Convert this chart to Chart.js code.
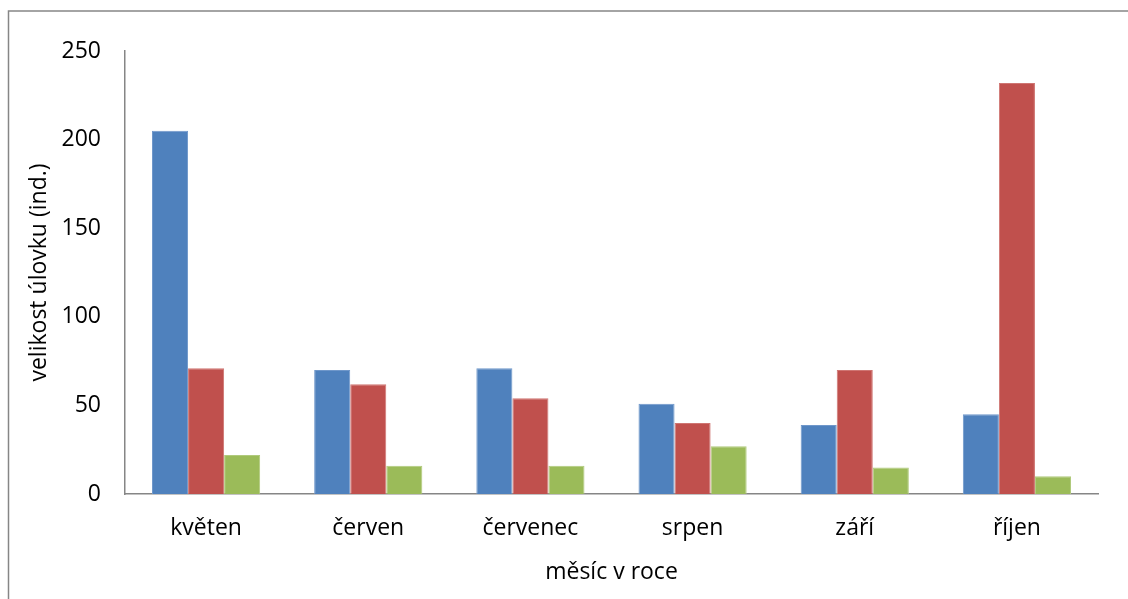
<!DOCTYPE html>
<html lang="cs">
<head>
<meta charset="utf-8">
<title>Velikost úlovku podle měsíce</title>
<script src="https://cdn.jsdelivr.net/npm/chart.js@4/dist/chart.umd.min.js"></script>
<style>
  html, body { margin: 0; padding: 0; background: #ffffff; }
  #wrap { width: 1128px; height: 599px; position: relative; }
</style>
</head>
<body>
<div id="wrap"><canvas id="c" width="1128" height="599"></canvas></div>
<script>
// Měsíce sezóny
const months = ['květen', 'červen', 'červenec', 'srpen', 'září', 'říjen'];

// Úlovky (počet jedinců) pro jednotlivé řady
const series1 = [205, 70, 71, 51, 39, 45];
const series2 = [71, 62, 54, 40, 70, 232];
const series3 = [22, 16, 16, 27, 15, 10];

// Osa y
const yMin = 0;
const yMax = 250;
const yStep = 50;

const FONT = '"Open Sans", "Liberation Sans", sans-serif';
const FONT_SIZE = 23;
const AXIS_GREY = '#868686';

// Šedý rámeček okolo celé oblasti grafu
const frame = {
  id: 'frame',
  beforeDraw(chart) {
    const ctx = chart.ctx;
    ctx.save();
    ctx.strokeStyle = AXIS_GREY;
    ctx.lineWidth = 1.5;
    ctx.strokeRect(8.5, 11, chart.width + 20, chart.height + 20);
    ctx.restore();
  }
};

new Chart(document.getElementById('c'), {
  type: 'bar',
  data: {
    labels: months,
    datasets: [
      { label: 'Řada 1', data: series1, backgroundColor: '#4F81BD', borderColor: '#6F97CA', borderWidth: 1 },
      { label: 'Řada 2', data: series2, backgroundColor: '#C0504D', borderColor: '#CF7572', borderWidth: 1 },
      { label: 'Řada 3', data: series3, backgroundColor: '#9BBB59', borderColor: '#B0CA7C', borderWidth: 1 }
    ]
  },
  options: {
    responsive: false,
    animation: false,
    devicePixelRatio: 1,
    layout: { padding: { left: 8, top: 51, right: 30, bottom: 0 } },
    datasets: { bar: { categoryPercentage: 0.667, barPercentage: 1.0 } },
    plugins: {
      legend: { display: false },
      tooltip: { enabled: false }
    },
    scales: {
      x: {
        grid: { display: false, drawTicks: false },
        border: { display: true, color: AXIS_GREY, width: 1.5 },
        ticks: { color: '#000', font: { family: FONT, size: FONT_SIZE }, padding: 21, maxRotation: 0 },
        title: {
          display: true, text: 'měsíc v roce', color: '#000',
          font: { family: FONT, size: FONT_SIZE }, padding: { top: 0, bottom: 13 }
        },
        afterFit(scale) { scale.height = 105; }
      },
      y: {
        min: yMin, max: yMax,
        grid: { display: false, drawTicks: false },
        border: { display: true, color: AXIS_GREY, width: 1.5 },
        ticks: { stepSize: yStep, color: '#000', font: { family: FONT, size: FONT_SIZE }, padding: 24 },
        title: {
          display: true, text: 'velikost úlovku (ind.)', color: '#000',
          font: { family: FONT, size: FONT_SIZE }, padding: { top: 18, bottom: 0 }
        },
        afterFit(scale) { scale.width = 117; }
      }
    }
  },
  plugins: [frame]
});
</script>
</body>
</html>
